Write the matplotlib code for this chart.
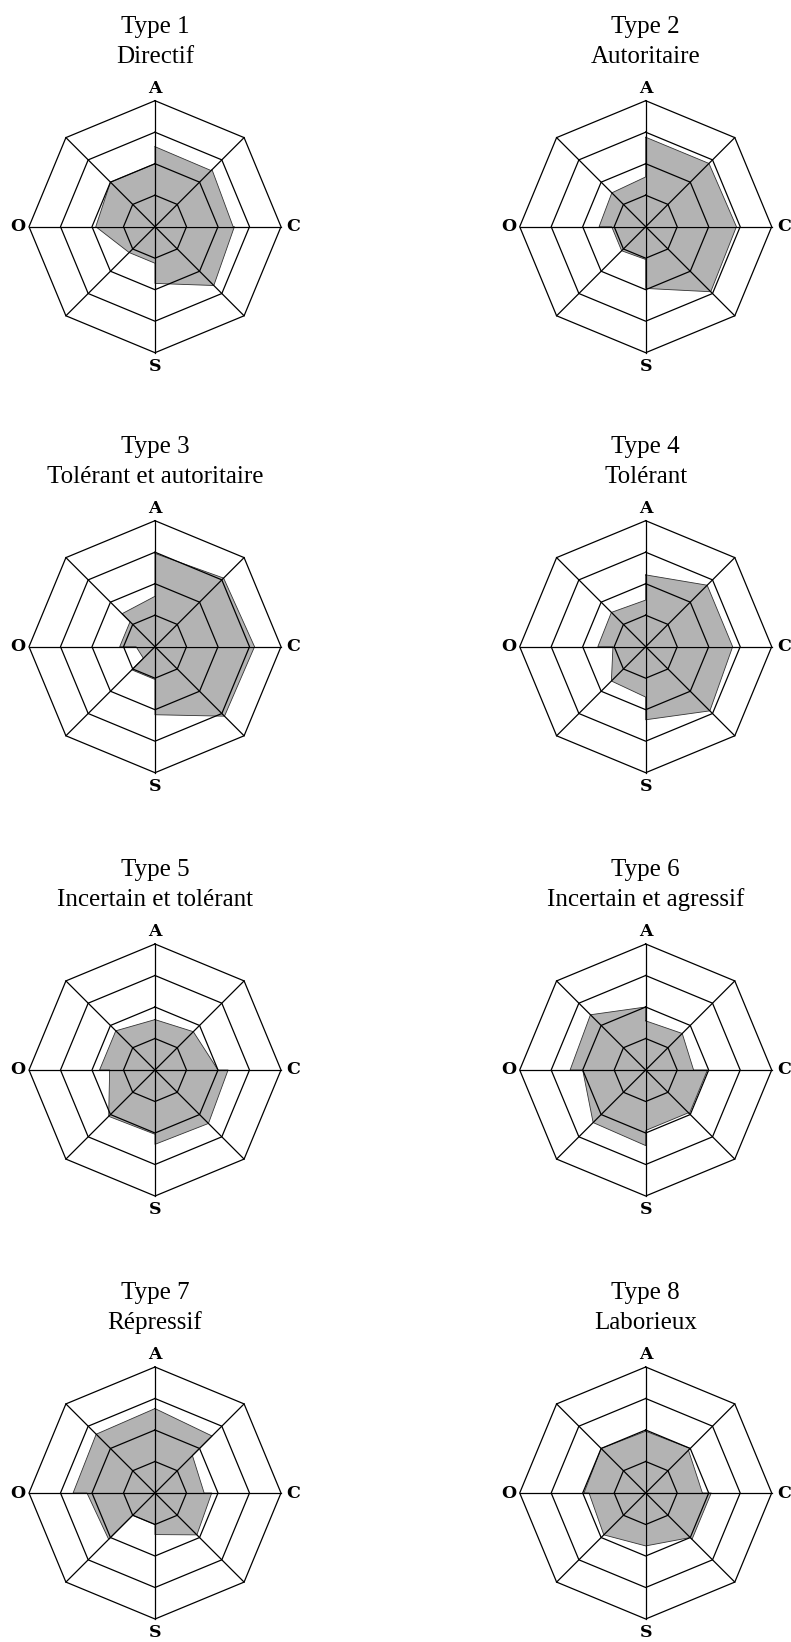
import matplotlib
matplotlib.use("Agg")
import matplotlib.pyplot as plt
import numpy as np
from matplotlib.patches import Polygon

W, H, DPI = 791, 1642, 100

type_numbers = ["Type 1", "Type 2", "Type 3", "Type 4",
                "Type 5", "Type 6", "Type 7", "Type 8"]
type_names = ["Directif", "Autoritaire", "Tolérant et autoritaire", "Tolérant",
              "Incertain et tolérant", "Incertain et agressif", "Répressif", "Laborieux"]
axis_labels = ["A", "C", "S", "O"]          # top, right, bottom, left
ring_levels = [0.25, 0.5, 0.75, 1.0]

# For each type: 8 sectors clockwise from A (A-NE, NE-C, C-SE, SE-S, S-SW, SW-O, O-NW, NW-A),
# each with (value at first spoke, value at second spoke), scale 0..1
type1 = [0.635, 0.63, 0.64, 0.62, 0.63, 0.66, 0.66, 0.45, 0.29, 0.29, 0.29, 0.47, 0.47, 0.50, 0.50, 0.50]
type2 = [0.71, 0.71, 0.71, 0.72, 0.72, 0.73, 0.73, 0.49, 0.26, 0.27, 0.27, 0.27, 0.37, 0.38, 0.38, 0.395]
type3 = [0.74, 0.77, 0.77, 0.79, 0.79, 0.78, 0.78, 0.54, 0.26, 0.26, 0.13, 0.15, 0.28, 0.28, 0.37, 0.40]
type4 = [0.57, 0.69, 0.69, 0.69, 0.69, 0.72, 0.72, 0.58, 0.40, 0.385, 0.385, 0.26, 0.38, 0.385, 0.385, 0.37]
type5 = [0.40, 0.43, 0.43, 0.50, 0.58, 0.60, 0.60, 0.59, 0.51, 0.52, 0.52, 0.36, 0.44, 0.44, 0.44, 0.40]
type6 = [0.39, 0.41, 0.41, 0.38, 0.49, 0.49, 0.48, 0.48, 0.60, 0.59, 0.59, 0.50, 0.60, 0.62, 0.62, 0.50]
type7 = [0.67, 0.64, 0.42, 0.39, 0.45, 0.47, 0.47, 0.33, 0.25, 0.25, 0.52, 0.54, 0.65, 0.66, 0.66, 0.67]
type8 = [0.49, 0.50, 0.48, 0.45, 0.52, 0.52, 0.50, 0.42, 0.42, 0.47, 0.47, 0.45, 0.49, 0.50, 0.50, 0.49]
all_types = [type1, type2, type3, type4, type5, type6, type7, type8]

col_x = [155.0, 645.7]                       # panel centres (px)
row_y = [226.7, 646.7, 1070.0, 1493.0]
R_PX = 126.0
L = 1.4

fig = plt.figure(figsize=(W / DPI, H / DPI), dpi=DPI)
fig.patch.set_facecolor("white")

angles = np.deg2rad(90 - 45 * np.arange(9))   # spoke angles, clockwise from top

for i, vals in enumerate(all_types):
    cx = col_x[i % 2]
    cy = row_y[i // 2]
    half = L * R_PX
    ax = fig.add_axes([(cx - half) / W, (H - cy - half) / H, 2 * half / W, 2 * half / H])
    ax.set_xlim(-L, L)
    ax.set_ylim(-L, L)
    ax.axis("off")

    # filled sectors
    outline = []
    for k in range(8):
        r0, r1 = vals[2 * k], vals[2 * k + 1]
        p0 = (r0 * np.cos(angles[k]), r0 * np.sin(angles[k]))
        p1 = (r1 * np.cos(angles[k + 1]), r1 * np.sin(angles[k + 1]))
        ax.add_patch(Polygon([(0, 0), p0, p1], closed=True, facecolor="#b3b3b3",
                             edgecolor="none", zorder=1))
        outline += [p0, p1]
    outline.append(outline[0])
    ox, oy = zip(*outline)
    ax.plot(ox, oy, color="#333333", lw=0.6, zorder=2)

    # grid rings
    for lev in ring_levels:
        ax.plot(lev * np.cos(angles), lev * np.sin(angles), color="black", lw=0.9, zorder=3)
    # spokes
    for a in angles[:8]:
        ax.plot([0, np.cos(a)], [0, np.sin(a)], color="black", lw=0.9, zorder=3)

    # axis labels
    lab_pos = [(0, 1.10), (1.10, 0), (0, -1.11), (-1.09, 0)]
    for lab, (lx, ly) in zip(axis_labels, lab_pos):
        ax.text(lx, ly, lab, ha="center", va="center", fontsize=12.5,
                family="DejaVu Serif", fontweight="bold", clip_on=False)

    # titles
    ax.text(0, 193.7 / R_PX, type_numbers[i], ha="center", va="baseline",
            fontsize=18, family="Liberation Serif", clip_on=False)
    ax.text(0, 163.7 / R_PX, type_names[i], ha="center", va="baseline",
            fontsize=18, family="Liberation Serif", clip_on=False)

fig.savefig("out.png", dpi=DPI, facecolor="white")
